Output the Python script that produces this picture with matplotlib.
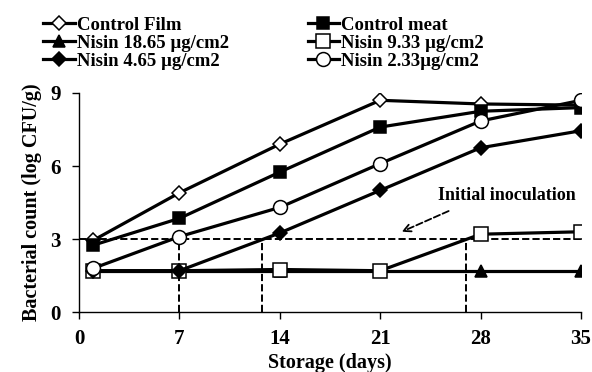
import numpy as np
import matplotlib
matplotlib.use('Agg')
from matplotlib import pyplot as plt

# data
days = [1, 7, 14, 21, 28, 35]
control_film = [2.95, 4.9, 6.9, 8.7, 8.55, 8.5]
control_meat = [2.75, 3.85, 5.75, 7.6, 8.25, 8.4]
nisin_1865 = [1.7, 1.7, 1.7, 1.7, 1.7, 1.7]
nisin_933 = [1.7, 1.7, 1.75, 1.7, 3.2, 3.3]
nisin_465 = [1.7, 1.7, 3.25, 5.0, 6.75, 7.45]
nisin_233 = [1.8, 3.1, 4.3, 6.1, 7.85, 8.7]
inoculation = 3
cross_days = [7, 12.75, 27]

plt.rcParams['font.family'] = ['Liberation Serif', 'DejaVu Serif']
plt.rcParams['font.weight'] = 'bold'

fig = plt.figure(figsize=[5.92, 3.72], dpi=100)
ax = fig.add_axes([0.1334, 0.161, 0.848, 0.589])

lw = 2.3
series = [
    (control_film, 'D', 'white', 7, 'Control Film'),
    (control_meat, 's', 'black', 9, 'Control meat'),
    (nisin_1865, '^', 'black', 9, 'Nisin 18.65 \u00b5g/cm2'),
    (nisin_933, 's', 'white', 10, 'Nisin 9.33 \u00b5g/cm2'),
    (nisin_465, 'D', 'black', 7, 'Nisin 4.65 \u00b5g/cm2'),
    (nisin_233, 'o', 'white', 10, 'Nisin 2.33\u00b5g/cm2'),
]

# reference lines
ax.plot([0, 35], [inoculation, inoculation], color='black', ls='--', lw=1.4, zorder=1)
for d in cross_days:
    ax.plot([d, d], [0, inoculation], color='black', ls='--', lw=1.4, zorder=1)

handles = []
for vals, m, fc, ms, lab in series:
    h, = ax.plot(days, vals, color='black', lw=lw, marker=m, markerfacecolor=fc,
                 markeredgecolor='black', markeredgewidth=1.1, markersize=ms,
                 label=lab, zorder=3)
    handles.append(h)

ax.annotate('Initial inoculation', xy=(22.5, 3.3), xytext=(25.0, 4.8),
            fontsize=13, fontweight='bold', va='center',
            arrowprops=dict(arrowstyle='->', ls='--', lw=1.3, color='black',
                            shrinkA=8, shrinkB=0, relpos=(0.2, 0)))

ax.set_xlim(0, 35)
ax.set_ylim(0, 9)
ax.set_xticks([0, 7, 14, 21, 28, 35])
ax.set_yticks([0, 3, 6, 9])
ax.tick_params(labelsize=15, width=1, length=5, direction='out')
ax.tick_params(axis='x', pad=7)
ax.tick_params(axis='y', pad=8)
ax.spines['top'].set_visible(False)
ax.spines['right'].set_visible(False)
ax.spines['left'].set_linewidth(1)
ax.spines['bottom'].set_linewidth(1)
ax.set_xlabel('Storage (days)', fontsize=14.5, fontweight='bold', labelpad=3)
ax.set_ylabel('Bacterial count (log CFU/g)', fontsize=14.5, fontweight='bold', labelpad=6)

order = [0, 2, 4, 1, 3, 5]
fig.legend([handles[i] for i in order], [series[i][4] for i in order],
           loc='upper left', bbox_to_anchor=(0.06, 0.975), ncol=2, frameon=False,
           fontsize=13.5, handlelength=1.7, handletextpad=0.1, columnspacing=4.2,
           labelspacing=0.05, borderaxespad=0)

fig.savefig('out.png', dpi=100)
